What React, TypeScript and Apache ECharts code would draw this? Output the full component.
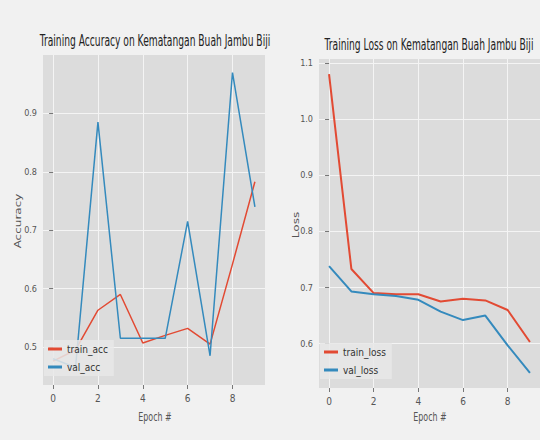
import React, { useEffect, useRef } from "react";
import * as echarts from "echarts";

const epochs = [0, 1, 2, 3, 4, 5, 6, 7, 8, 9];
const trainAcc = [0.476, 0.495, 0.563, 0.59, 0.507, 0.52, 0.532, 0.505, 0.642, 0.783];
const valAcc = [0.48, 0.465, 0.885, 0.515, 0.515, 0.515, 0.715, 0.485, 0.97, 0.74];
const trainLoss = [1.08, 0.733, 0.69, 0.688, 0.688, 0.675, 0.68, 0.677, 0.66, 0.603];
const valLoss = [0.738, 0.693, 0.688, 0.685, 0.678, 0.657, 0.642, 0.65, 0.597, 0.548];
const xTicks = [0, 2, 4, 6, 8];
const accTicks = [0.5, 0.6, 0.7, 0.8, 0.9];
const lossTicks = [0.6, 0.7, 0.8, 0.9, 1.0, 1.1];

const RED = "#E24A33";
const BLUE = "#348ABD";
const FONT = "'DejaVu Sans', sans-serif";
const NARROW = "'DejaVu Sans Condensed', 'Liberation Sans Narrow', 'Liberation Sans', sans-serif";

export default function App() {
  const ref = useRef<HTMLDivElement>(null);
  useEffect(() => {
    document.body.style.margin = "0";
    const chart = echarts.init(ref.current!, null, { renderer: "svg" });
    const pair = (a: number[]) => epochs.map((e, i) => [e, a[i]]);
    const xAxisBase = (gi: number) => ({
      type: "value",
      gridIndex: gi,
      min: -0.45,
      max: 9.45,
      axisLine: { show: false },
      axisTick: { show: true, length: 4, lineStyle: { color: "#777" }, customValues: xTicks },
      axisLabel: {
        customValues: xTicks,
        color: "#555",
        fontSize: 10,
        fontFamily: NARROW,
        margin: 8,
        formatter: (v: number) => String(v),
      },
      splitLine: { show: true, lineStyle: { color: "#f4f4f4", width: 1 } },
    });
    const yAxisBase = (gi: number, min: number, max: number, ticks: number[]) => ({
      type: "value",
      gridIndex: gi,
      min,
      max,
      axisLine: { show: false },
      axisTick: { show: true, length: 4, lineStyle: { color: "#777" }, customValues: ticks },
      axisLabel: {
        customValues: ticks,
        color: "#555",
        fontSize: 9,
        fontFamily: NARROW,
        margin: 6,
        formatter: (v: number) => v.toFixed(1),
      },
      splitLine: { show: true, lineStyle: { color: "#f4f4f4", width: 1 } },
    });
    const legendBase = {
      orient: "vertical",
      padding: [4, 6, 4, 4],
      itemGap: 8,
      itemWidth: 14,
      itemHeight: 3,
      icon: "rect",
      backgroundColor: "rgba(232,232,232,0.85)",
      textStyle: { color: "#333", fontSize: 10, fontFamily: NARROW },
    };
    const squashed = (x: number, y: number, text: string, size: number, fill: string, k: number, rot = 0) => ({
      type: "text",
      x,
      y,
      rotation: rot,
      scaleX: rot ? 1 : k,
      scaleY: rot ? k : 1,
      style: { text, fill, fontSize: size, fontFamily: FONT, align: "center", verticalAlign: "middle" },
    });
    chart.setOption({
      animation: false,
      backgroundColor: "#f1f1f1",
      grid: [
        { left: 43, top: 55, width: 222, height: 330, show: true, backgroundColor: "#dcdcdc", borderWidth: 0 },
        { left: 319, top: 59, width: 221, height: 329, show: true, backgroundColor: "#dcdcdc", borderWidth: 0 },
      ],
      xAxis: [xAxisBase(0), xAxisBase(1)],
      yAxis: [yAxisBase(0, 0.435, 1.0, accTicks), yAxisBase(1, 0.521, 1.107, lossTicks)],
      legend: [
        { ...legendBase, data: ["train_acc", "val_acc"], left: 44, top: 340 },
        { ...legendBase, data: ["train_loss", "val_loss"], left: 320, top: 343 },
      ],
      series: [
        { name: "train_acc", type: "line", xAxisIndex: 0, yAxisIndex: 0, data: pair(trainAcc), showSymbol: false, color: RED, lineStyle: { width: 1.5, color: RED } },
        { name: "val_acc", type: "line", xAxisIndex: 0, yAxisIndex: 0, data: pair(valAcc), showSymbol: false, color: BLUE, lineStyle: { width: 1.5, color: BLUE } },
        { name: "train_loss", type: "line", xAxisIndex: 1, yAxisIndex: 1, data: pair(trainLoss), showSymbol: false, color: RED, lineStyle: { width: 2, color: RED } },
        { name: "val_loss", type: "line", xAxisIndex: 1, yAxisIndex: 1, data: pair(valLoss), showSymbol: false, color: BLUE, lineStyle: { width: 2, color: BLUE } },
      ],
      graphic: [
        squashed(155, 41, "Training Accuracy on Kematangan Buah Jambu Biji", 15, "#222", 0.61),
        squashed(429, 45, "Training Loss on Kematangan Buah Jambu Biji", 15, "#222", 0.61),
        squashed(18, 221, "Accuracy", 12, "#555", 0.66, Math.PI / 2),
        squashed(296, 225, "Loss", 12, "#555", 0.66, Math.PI / 2),
        squashed(155, 417, "Epoch #", 12, "#555", 0.66),
        squashed(430, 417, "Epoch #", 12, "#555", 0.66),
      ],
    });
    return () => chart.dispose();
  }, []);
  return <div ref={ref} style={{ position: "absolute", left: 0, top: 0, width: 540, height: 440 }} />;
}
